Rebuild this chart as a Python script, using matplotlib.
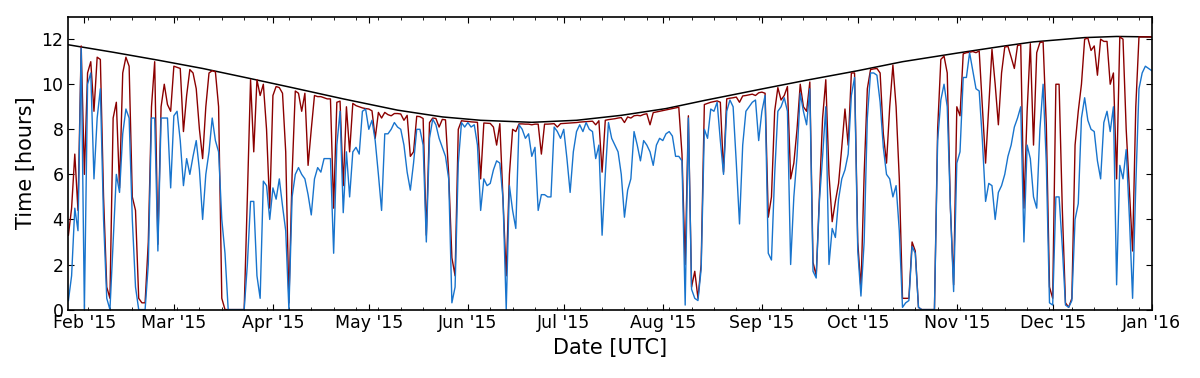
import numpy as np
import pandas as pd
import matplotlib
matplotlib.use("Agg")
import matplotlib.pyplot as plt
import matplotlib.dates as mdates
from dateutil.rrule import MO

# length of the night (black curve), read at a few dates
night_dates = ["2015-01-27", "2015-02-10", "2015-02-24", "2015-03-10", "2015-03-24",
               "2015-04-07", "2015-04-23", "2015-05-10", "2015-05-24", "2015-06-05",
               "2015-06-21", "2015-07-05", "2015-07-19", "2015-08-02", "2015-08-14",
               "2015-09-01", "2015-09-15", "2015-10-01", "2015-10-15", "2015-11-01",
               "2015-11-15", "2015-11-25", "2015-12-11", "2015-12-21", "2016-01-01"]
night_hours = [11.75, 11.42, 11.07, 10.70, 10.28, 9.85, 9.35, 8.85, 8.55, 8.40,
               8.31, 8.40, 8.62, 8.92, 9.28, 9.79, 10.18, 10.60, 11.00, 11.38,
               11.68, 11.88, 12.07, 12.12, 12.10]

# daily values from 2015-01-27 to 2016-01-01
first_day = "2015-01-27"
red_hours = [
    # 27 Jan - 10 Mar
    3.3, 4.5, 6.9, 4.4, 11.7, 6.0, 10.5, 11.0, 8.8, 11.2, 11.1, 5.0, 1.0, 0.5, 8.5,
    9.2, 5.4, 10.5, 11.2, 10.8, 5.0, 4.4, 0.5, 0.3, 0.3, 3.0, 9.0, 11.0, 2.9, 9.0,
    10.0, 9.1, 8.8, 10.8, 10.75, 10.7, 7.9, 9.5, 10.65, 10.5, 9.8, 8.0, 6.7,
    # 11 Mar - 22 Apr
    9.0, 10.5, 10.6, 10.55, 9.0, 0.5, 0.0, 0.0, 0.0, 0.0, 0.0, 0.0, 0.0, 5.0, 10.2,
    7.0, 10.2, 9.5, 10.0, 8.0, 4.5, 9.5, 9.9, 9.85, 9.6, 7.0, 0.3, 6.0, 9.7, 9.6,
    8.8, 9.6, 6.4, 8.0, 9.5, 9.45, 9.45, 9.4, 9.35, 9.35, 4.5, 9.2, 9.25,
    # 23 Apr - 5 Jun
    5.5, 9.0, 7.0, 9.15, 9.05, 9.0, 8.95, 8.92, 8.9, 8.82, 7.6, 8.75, 8.5, 8.75, 8.65,
    8.6, 8.7, 8.7, 8.68, 8.4, 8.62, 6.8, 7.0, 8.58, 8.56, 8.48, 3.3, 8.3, 8.5, 8.48,
    8.1, 8.44, 8.42, 6.0, 2.3, 1.5, 8.0, 8.38, 8.36, 8.35, 8.33, 8.32, 8.31, 5.8,
    # 6 Jun - 19 Jul
    8.28, 8.27, 8.26, 8.1, 7.3, 8.25, 4.9, 1.5, 6.0, 8.0, 7.9, 8.24, 8.24, 8.23, 8.23,
    8.2, 8.23, 8.23, 6.9, 8.23, 8.23, 8.24, 8.25, 8.1, 8.25, 8.26, 8.27, 8.28, 8.29, 8.3,
    8.32, 8.33, 8.34, 8.35, 8.36, 8.2, 8.38, 6.1, 8.4, 8.43, 8.45, 8.47, 8.5, 8.52,
    # 20 Jul - 1 Sep
    8.3, 8.55, 8.5, 8.6, 8.62, 8.6, 8.66, 8.69, 8.2, 8.74, 8.77, 8.8, 8.83, 8.86, 8.89,
    8.92, 8.95, 8.98, 6.9, 2.0, 8.6, 1.0, 1.7, 0.5, 2.0, 9.1, 9.15, 9.2, 9.23, 9.26,
    9.2, 6.1, 9.35, 9.38, 9.4, 9.43, 9.2, 9.48, 9.5, 9.53, 9.56, 9.5, 9.62, 9.65,
    # 2 Sep - 15 Oct
    9.6, 4.1, 5.0, 8.8, 9.85, 9.3, 9.5, 9.9, 5.8, 6.5, 8.0, 10.0, 9.0, 8.8, 10.1,
    2.1, 1.5, 5.0, 8.5, 10.2, 6.0, 3.9, 4.8, 5.6, 7.2, 8.9, 7.3, 10.5, 10.5, 3.0,
    0.9, 6.0, 9.8, 10.65, 10.68, 10.7, 10.5, 7.8, 6.5, 9.0, 10.85, 9.0, 5.8, 0.5,
    # 16 Oct - 28 Nov
    0.5, 0.5, 3.0, 2.6, 0.1, 0.0, 0.0, 0.0, 0.0, 0.0, 8.0, 11.1, 11.25, 10.5, 4.5,
    1.1, 9.0, 8.6, 11.35, 11.4, 11.42, 11.45, 11.4, 11.48, 9.0, 6.5, 9.0, 11.55, 10.0, 8.2,
    10.5, 11.65, 11.68, 11.2, 10.7, 11.72, 11.75, 4.5, 8.8, 11.8, 7.3, 11.4, 11.85, 11.88,
    # 29 Nov - 1 Jan
    8.2, 1.0, 0.5, 10.0, 10.0, 4.5, 0.3, 0.1, 0.5, 7.3, 8.8, 10.0, 12.0, 12.05, 11.5,
    11.7, 10.4, 12.0, 11.9, 11.9, 10.0, 10.5, 5.8, 12.1, 12.0, 8.0, 5.3, 2.6, 9.0, 12.1,
    12.1, 12.1, 12.1, 12.1,
]
blue_hours = [
    # 27 Jan - 10 Mar
    0.4, 1.5, 4.5, 3.5, 11.6, 0.0, 10.0, 10.5, 5.8, 8.5, 9.8, 4.0, 0.5, 0.0, 3.0,
    6.0, 5.2, 7.8, 8.9, 8.5, 4.0, 1.0, 0.0, 0.0, 0.0, 2.0, 8.5, 8.5, 2.6, 8.5,
    8.5, 8.5, 5.4, 8.6, 8.8, 7.5, 5.5, 6.7, 6.0, 6.8, 7.5, 6.2, 4.0,
    # 11 Mar - 22 Apr
    6.0, 7.0, 8.5, 7.5, 7.0, 4.0, 2.5, 0.0, 0.0, 0.0, 0.0, 0.0, 0.0, 2.0, 4.8,
    4.8, 1.5, 0.5, 5.7, 5.5, 4.0, 5.4, 4.9, 5.8, 4.6, 3.5, 0.0, 5.0, 6.0, 6.3,
    6.0, 5.8, 5.1, 4.2, 5.8, 6.3, 6.1, 6.7, 6.7, 6.7, 2.5, 7.3, 8.8,
    # 23 Apr - 5 Jun
    4.3, 7.0, 5.0, 7.0, 7.2, 6.9, 8.8, 8.9, 8.0, 8.4, 7.5, 6.0, 4.4, 7.8, 7.8,
    8.0, 8.3, 8.1, 8.0, 7.3, 6.1, 5.3, 6.5, 8.0, 8.0, 7.3, 3.0, 7.6, 8.45, 8.2,
    7.6, 7.2, 6.8, 5.8, 0.3, 1.0, 6.5, 8.3, 8.1, 8.3, 8.1, 8.2, 7.3, 4.4,
    # 6 Jun - 19 Jul
    5.8, 5.5, 5.6, 6.2, 6.6, 6.5, 4.9, 0.0, 5.5, 4.4, 3.6, 8.2, 8.0, 7.6, 7.8,
    6.8, 7.2, 4.4, 5.1, 5.1, 5.0, 5.0, 8.1, 7.9, 7.6, 8.0, 6.7, 5.2, 7.0, 7.9,
    8.2, 7.9, 8.3, 8.0, 7.9, 6.7, 7.3, 3.3, 6.0, 8.3, 7.6, 7.3, 7.0, 6.0,
    # 20 Jul - 1 Sep
    4.1, 5.3, 5.8, 7.9, 7.3, 6.6, 7.5, 7.3, 7.0, 6.4, 7.3, 7.6, 7.5, 7.8, 7.9,
    7.7, 6.8, 6.8, 6.6, 0.2, 8.5, 0.9, 0.5, 0.4, 1.8, 8.0, 7.6, 8.9, 8.8, 9.2,
    7.5, 6.0, 8.8, 9.3, 9.0, 6.5, 3.8, 7.3, 8.8, 9.0, 9.2, 9.3, 7.5, 8.8,
    # 2 Sep - 15 Oct
    9.5, 2.5, 2.2, 6.0, 8.8, 9.0, 9.4, 8.8, 2.0, 5.0, 6.8, 9.6, 8.8, 8.2, 9.8,
    1.7, 1.4, 4.8, 6.8, 9.0, 2.0, 3.6, 3.2, 4.9, 5.8, 6.2, 6.9, 9.5, 10.3, 2.6,
    0.6, 3.0, 8.5, 10.5, 10.5, 10.4, 9.2, 7.2, 6.0, 5.8, 5.0, 5.5, 3.5, 0.1,
    # 16 Oct - 28 Nov
    0.3, 0.4, 2.8, 2.5, 0.1, 0.0, 0.0, 0.0, 0.0, 0.0, 7.5, 9.3, 10.0, 9.0, 4.5,
    0.8, 6.5, 7.0, 10.3, 10.3, 11.4, 10.6, 9.8, 9.7, 7.5, 4.8, 5.6, 5.5, 4.0, 5.2,
    5.5, 6.0, 6.8, 7.3, 8.1, 8.5, 9.0, 3.0, 7.3, 6.7, 5.0, 4.5, 8.0, 10.0,
    # 29 Nov - 1 Jan
    6.5, 0.3, 0.2, 5.0, 5.0, 2.8, 0.2, 0.1, 0.4, 4.0, 4.7, 8.5, 9.4, 8.4, 8.0,
    7.9, 6.6, 5.8, 8.3, 8.8, 7.9, 9.0, 1.1, 6.4, 5.8, 7.1, 4.1, 0.5, 5.5, 9.8,
    10.5, 10.8, 10.7, 10.6,
]

plt.rcParams.update({
    "font.family": "DejaVu Sans",
    "xtick.direction": "in",
    "ytick.direction": "in",
    "xtick.top": True,
    "ytick.right": True,
    "xtick.major.size": 4,
    "xtick.minor.size": 2,
    "ytick.major.size": 4,
    "axes.linewidth": 1.2,
})

days = pd.date_range(first_day, periods=len(red_hours), freq="D")
night_x = pd.to_datetime(night_dates)

fig = plt.figure(figsize=(12, 3.78), dpi=100)
ax = fig.add_axes([0.057, 0.181, 0.9028, 0.775])

ax.plot(night_x, night_hours, color="black", lw=1.1)
ax.plot(days, red_hours, color="#8b0000", lw=1.0)
ax.plot(days, blue_hours, color="#1874cd", lw=1.0)

ax.set_xlim(pd.Timestamp("2015-01-27"), pd.Timestamp("2016-01-01"))
ax.set_ylim(0, 13)
ax.set_yticks(range(0, 13, 2))
ax.xaxis.set_major_locator(mdates.MonthLocator())
ax.xaxis.set_major_formatter(mdates.DateFormatter("%b '%y"))
ax.xaxis.set_minor_locator(mdates.WeekdayLocator(byweekday=MO))
ax.tick_params(labelsize=12.5)

ax.set_xlabel("Date [UTC]", fontsize=15)
ax.set_ylabel("Time [hours]", fontsize=15)

fig.savefig("out.png", dpi=100)
